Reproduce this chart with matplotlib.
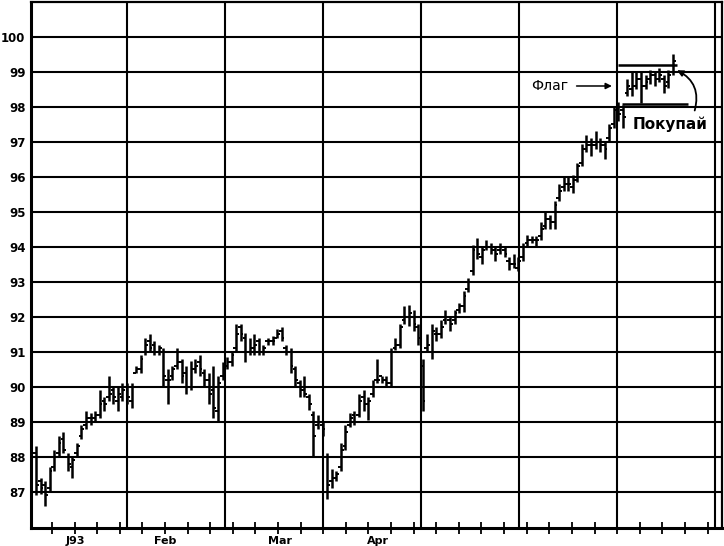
import matplotlib
matplotlib.use("Agg")
import matplotlib.pyplot as plt
from matplotlib.transforms import blended_transform_factory
import numpy as np

# ---- data (trading-day bars) ----
highs = [88.3, 87.4, 87.3, 87.7, 88.2, 88.6, 88.7, 88.1, 88.0, 88.4,
         88.9, 89.3, 89.25, 89.3, 89.9, 89.7, 90.3, 90.0, 90.0, 90.1,
         90.1, 90.1, 90.6, 90.9, 91.4, 91.5, 91.3, 91.2, 91.1, 90.5,
         90.6, 91.1, 90.8, 90.6, 90.75, 90.8, 90.9, 90.5, 90.4, 90.6,
         90.3, 90.7, 90.85, 91.0, 91.8, 91.8, 91.55, 91.4, 91.5, 91.4,
         91.2, 91.4, 91.45, 91.65, 91.7, 91.2, 91.1, 90.6, 90.2, 90.3,
         89.8, 89.3, 89.2, 89.0, 88.1, 87.65, 87.6, 88.4, 88.9, 89.25,
         89.3, 89.8, 89.9, 89.7, 90.2, 90.8, 90.3, 90.3, 91.1, 91.4,
         91.8, 92.3, 92.35, 92.2, 91.8, 90.8, 91.5, 91.8, 91.7, 91.9,
         92.2, 92.0, 92.2, 92.4, 92.75, 93.1, 94.05, 94.25, 94.0, 94.2,
         94.1, 94.0, 94.1, 94.0, 93.7, 93.8, 93.7, 94.1, 94.35, 94.3,
         94.3, 94.7, 95.0, 94.9, 95.3, 95.8, 96.0, 96.0, 96.05, 96.4,
         96.95, 97.2, 97.1, 97.3, 97.1, 97.0, 97.5, 98.0, 98.15, 98.05,
         98.8, 99.0, 99.0, 99.0, 98.9, 99.05, 99.0, 99.1, 98.9, 99.05,
         99.5]
lows = [86.9, 86.95, 86.6, 87.0, 87.6, 88.0, 88.1, 87.6, 87.4, 88.0,
        88.5, 88.8, 88.9, 89.0, 89.1, 89.3, 89.6, 89.5, 89.3, 89.6,
        89.5, 89.4, 90.4, 90.4, 90.9, 91.0, 90.9, 90.9, 90.0, 89.5,
        90.2, 90.5, 90.1, 89.8, 89.9, 90.4, 90.3, 90.0, 89.5, 89.1,
        89.0, 90.2, 90.5, 90.6, 91.0, 91.3, 90.7, 90.9, 90.9, 90.9,
        90.9, 91.2, 91.2, 91.4, 91.3, 90.9, 90.4, 90.0, 89.7, 89.7,
        89.35, 88.0, 88.8, 88.6, 86.8, 87.1, 87.3, 87.6, 88.2, 88.85,
        88.9, 89.15, 89.3, 89.05, 89.7, 90.1, 90.1, 90.0, 90.0, 91.05,
        91.1, 91.8, 91.75, 91.6, 91.2, 89.3, 91.0, 90.8, 91.3, 91.4,
        91.8, 91.6, 91.8, 92.1, 92.15, 92.7, 93.2, 93.65, 93.5, 93.9,
        93.8, 93.6, 93.8, 93.7, 93.35, 93.4, 93.3, 93.6, 94.0, 94.1,
        94.0, 94.2, 94.5, 94.5, 94.5, 95.3, 95.6, 95.6, 95.55, 95.85,
        96.3, 96.7, 96.6, 96.8, 96.7, 96.5, 97.0, 97.4, 97.6, 97.4,
        98.3, 98.3, 98.5, 98.1, 98.5, 98.65, 98.6, 98.7, 98.4, 98.55,
        98.9]
opens = [88.1, 87.3, 87.2, 87.1, 87.7, 88.1, 88.5, 88.0, 87.7, 88.1,
         88.6, 88.9, 89.1, 89.1, 89.2, 89.6, 89.7, 89.9, 89.6, 89.7,
         90.0, 89.6, 90.4, 90.5, 91.0, 91.3, 91.2, 91.0, 91.0, 90.2,
         90.3, 90.6, 90.7, 90.4, 90.0, 90.5, 90.7, 90.4, 90.2, 89.9,
         89.3, 90.3, 90.6, 90.7, 91.1, 91.7, 91.4, 91.0, 91.1, 91.3,
         91.0, 91.3, 91.3, 91.4, 91.6, 91.1, 91.0, 90.5, 90.1, 89.9,
         89.7, 89.2, 88.9, 88.9, 88.0, 87.3, 87.4, 87.7, 88.3, 88.9,
         89.2, 89.2, 89.7, 89.5, 89.8, 90.2, 90.3, 90.2, 90.1, 91.1,
         91.2, 91.9, 92.0, 92.0, 91.7, 90.6, 91.1, 91.0, 91.5, 91.5,
         91.9, 91.9, 91.9, 92.2, 92.3, 92.8, 93.3, 94.0, 93.7, 94.0,
         94.0, 93.9, 93.9, 93.9, 93.6, 93.5, 93.4, 93.7, 94.1, 94.2,
         94.2, 94.3, 94.6, 94.8, 94.7, 95.4, 95.7, 95.8, 95.7, 95.9,
         96.4, 96.8, 96.9, 96.9, 97.0, 96.9, 97.1, 97.5, 97.9, 97.9,
         98.4, 98.5, 98.6, 98.8, 98.6, 98.8, 98.9, 98.8, 98.8, 98.7,
         99.0]
closes = [87.2, 87.1, 86.9, 87.6, 88.0, 88.4, 88.2, 87.8, 87.9, 88.3,
          88.8, 89.1, 89.0, 89.2, 89.5, 89.5, 89.8, 89.7, 89.8, 89.9,
          89.7, 90.0, 90.5, 90.8, 91.2, 91.1, 91.0, 91.1, 90.3, 90.2,
          90.5, 90.7, 90.3, 90.0, 90.5, 90.6, 90.5, 90.2, 89.8, 89.4,
          90.1, 90.5, 90.7, 90.9, 91.5, 91.5, 91.0, 91.1, 91.2, 91.0,
          91.1, 91.3, 91.3, 91.5, 91.4, 91.0, 90.6, 90.2, 89.9, 89.8,
          89.5, 88.6, 89.0, 88.8, 87.2, 87.4, 87.5, 88.2, 88.7, 89.1,
          89.0, 89.6, 89.5, 89.6, 90.0, 90.2, 90.2, 90.1, 91.0, 91.2,
          91.7, 92.0, 92.1, 91.8, 91.4, 89.6, 91.2, 91.6, 91.5, 91.7,
          92.0, 91.8, 92.1, 92.3, 92.6, 93.0, 93.9, 93.8, 93.9, 94.0,
          93.9, 93.8, 94.0, 93.8, 93.5, 93.5, 93.6, 94.0, 94.2, 94.2,
          94.2, 94.5, 94.8, 94.7, 95.2, 95.6, 95.8, 95.8, 95.9, 96.3,
          96.8, 96.9, 96.9, 97.0, 96.9, 96.8, 97.4, 97.9, 97.8, 97.7,
          98.6, 98.6, 98.8, 98.6, 98.7, 98.9, 98.8, 98.9, 98.6, 98.9,
          99.3]

y_ticks = list(range(87, 101))
month_labels = ["J93", "Feb", "Mar", "Apr"]
month_label_pos = [8.6, 28.4, 53.6, 75.2]
flag_top = 99.2
flag_bottom = 98.08

days = np.arange(len(highs))

fig = plt.figure(figsize=(7.24, 5.46), dpi=100)
ax = fig.add_axes([31 / 724, 18 / 546, 691 / 724, 526 / 546])

ax.set_xlim(-1.1, 150.8)
ax.set_ylim(85.97, 101.0)

# grid
for y in y_ticks:
    ax.axhline(y, color="black", lw=1.5, zorder=1)
for xm in np.arange(20.0, 151, 21.55):
    ax.axvline(xm, color="black", lw=1.5, zorder=1)

# OHLC bars
tick = 0.6
ax.vlines(days, lows, highs, color="black", lw=1.8, zorder=3)
ax.hlines(opens, days - tick, days, color="black", lw=1.4, zorder=3)
ax.hlines(closes, days, days + tick, color="black", lw=1.4, zorder=3)

# flag lines
ax.hlines(flag_top, 127.9, 140.9, color="black", lw=1.8, zorder=4)
ax.hlines(flag_bottom, 128.8, 143.3, color="black", lw=1.8, zorder=4)

# annotations
ax.annotate("Флаг", xy=(126.6, 98.6), xytext=(117.0, 98.6),
            ha="right", va="center", fontsize=10,
            arrowprops=dict(arrowstyle="-|>", color="black", lw=1.1,
                            shrinkA=4, shrinkB=0, mutation_scale=9))
ax.text(139.3, 97.5, "Покупай", ha="center", va="center",
        fontsize=11, fontweight="bold")
ax.annotate("", xy=(140.9, 99.05), xytext=(144.8, 97.9),
            arrowprops=dict(arrowstyle="-|>", color="black", lw=1.3,
                            connectionstyle="arc3,rad=0.4",
                            shrinkA=0, shrinkB=0, mutation_scale=9))

# axes styling
for side in ["left", "bottom"]:
    ax.spines[side].set_linewidth(2.2)
for side in ["top", "right"]:
    ax.spines[side].set_linewidth(1.6)

ax.set_yticks(y_ticks)
ax.set_yticklabels([str(v) for v in y_ticks], fontsize=8.5, fontweight="bold")
ax.tick_params(axis="y", length=0, pad=4)

ax.set_xticks(np.arange(3.5, 151, 4.97))
ax.set_xticklabels([])
ax.tick_params(axis="x", direction="inout", length=9, width=1.3)

trans = blended_transform_factory(ax.transData, ax.transAxes)
for lab, xp in zip(month_labels, month_label_pos):
    ax.text(xp, -0.024, lab, transform=trans, ha="center", va="center",
            fontsize=8, fontweight="bold")

fig.savefig("out.png", dpi=100)
